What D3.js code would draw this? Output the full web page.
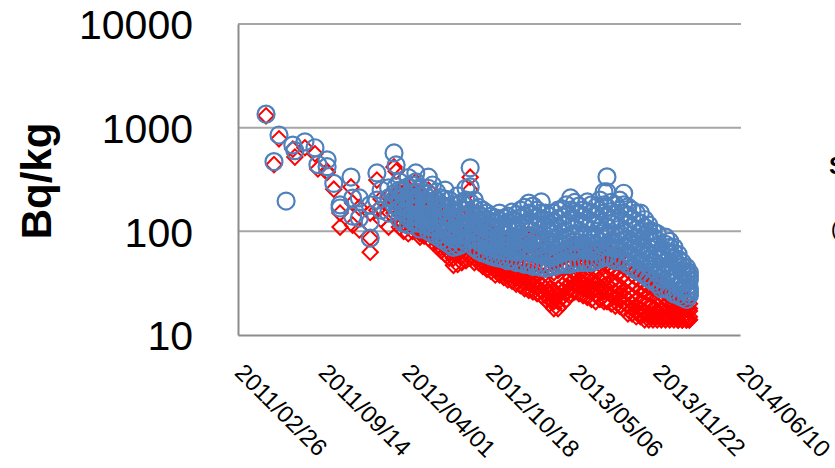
<!DOCTYPE html>
<html><head><meta charset="utf-8">
<script src="https://cdn.jsdelivr.net/npm/d3@7"></script>
<style>html,body{margin:0;padding:0;background:#fff;}svg{display:block;}</style>
</head><body>
<svg id="chart" width="835" height="468"></svg>
<script>
// ---- data ----
const yTickValues = [10, 100, 1000, 10000];
const xTickLabels = ["2011/02/26","2011/09/14","2012/04/01","2012/10/18","2013/05/06","2013/11/22","2014/06/10"];
const sampleDates = [
 "2011/05/04","2011/05/23","2011/06/04","2011/06/21","2011/07/07","2011/07/12","2011/08/05","2011/08/29","2011/09/05","2011/09/27",
 "2011/10/13","2011/10/28","2011/11/23","2011/11/27","2011/12/13","2012/01/08","2012/01/24","2012/02/03","2012/02/21","2012/03/05",
 "2012/03/10","2012/03/18","2012/03/28","2012/04/08","2012/04/18","2012/04/26","2012/05/06","2012/05/16","2012/05/26","2012/06/05",
 "2012/06/15","2012/06/25","2012/07/05","2012/07/15","2012/07/25","2012/08/04","2012/08/14","2012/08/24","2012/09/03","2012/09/13",
 "2012/09/23","2012/10/03","2012/10/13","2012/10/23","2012/11/02","2012/11/12","2012/11/22","2012/12/02","2012/12/12","2012/12/22",
 "2013/01/01","2013/01/11","2013/01/21","2013/01/31","2013/02/10","2013/02/20","2013/03/02","2013/03/12","2013/03/22","2013/04/01",
 "2013/04/11","2013/04/21","2013/05/01","2013/05/11","2013/05/21","2013/05/31","2013/06/10","2013/06/20","2013/06/30","2013/07/10",
 "2013/07/20","2013/07/27","2013/08/06","2013/08/16","2013/08/26","2013/09/05","2013/09/15","2013/09/25","2013/10/05","2013/10/15",
 "2013/10/25","2013/11/04","2013/11/14","2013/11/24","2013/12/04","2013/12/14","2013/12/24","2014/01/03","2014/01/13","2014/01/23",
 "2014/02/02","2014/02/09"
];
const blueValues = [
 [1350],[470],[850],[196],[680],[600],[730],[640],[440],[490,420],
 [290],[180,168],[334],[209,140],[134,210],[123,86,180],[366,200],[250,160],[262,150,210],[570,230,180],
 [437,270],[300,210,160,130,250,185],[250,190,150,120,215,170],[330,220,170,135,115,270,150],[280,200,160,125,230,140],[366,240,180,140,120,300,160],[260,190,150,120,105,220,135],[230,170,140,115,200,125],[333,210,160,125,100,260,140],[280,180,140,110,95,220,125],
 [240,170,130,105,90,200,115],[210,150,120,95,85,180,105],[250,170,125,100,80,205,112],[200,140,110,90,75,170,100],[180,130,105,85,70,155,95],[220,150,115,90,72,180,100],[190,140,110,85,75,160,95],[260,160,120,95,80,200,105],[410,268,150,110,85,190,125],[200,140,105,85,70,165,120],
 [170,125,100,80,65,145,90],[160,120,95,75,62,138,85],[150,115,90,72,60,130,80],[140,110,88,70,58,125,78],[135,105,85,68,56,120,75],[150,110,85,66,55,128,75],[134,100,80,65,54,118,72],[140,105,82,64,52,120,72],[153,110,85,66,53,128,75],[145,108,82,63,50,125,72],
 [160,115,85,65,50,135,75],[170,120,88,65,48,142,76],[187,125,90,66,48,150,78],[175,120,88,64,46,145,75],[160,115,85,62,46,135,72],[192,130,90,63,45,150,75],[150,110,80,58,44,128,68],[140,100,75,55,45,118,65],[150,105,78,57,46,125,66],[160,110,80,60,47,132,70],
 [165,115,85,62,48,138,72],[180,120,88,64,48,145,75],[210,130,92,66,48,160,78],[190,130,95,68,50,155,80],[175,125,92,68,50,148,78],[160,120,90,66,50,140,76],[192,130,92,66,50,155,78],[180,125,90,64,50,150,76],[170,120,88,64,52,145,75],[200,130,95,68,54,160,80],
 [240,150,100,72,56,180,85],[335,240,170,110,75,58,140,90],[190,130,95,70,55,155,80],[180,125,92,68,52,150,78],[200,135,95,68,52,160,80],[233,150,100,70,52,180,82],[172,120,85,62,48,142,72],[160,110,80,58,45,132,68],[150,105,75,55,42,125,64],[150,100,72,52,40,120,60],
 [130,92,68,50,38,110,58],[115,85,62,46,35,100,54],[100,78,58,43,33,88,50],[95,70,54,40,31,82,46],[66,55,45,35,28,60,40],[88,65,50,38,28,75,44],[80,60,46,35,27,70,40],[70,55,42,32,25,62,36],[60,48,38,30,24,54,34],[50,42,34,28,23,46,31],
 [45,38,32,26,22,41,29],[40,34,28,24,37,26]
];
const redValues = [
 [1300],[440],[780],[null],[620],[520],[640],[560],[400],[380,370],
 [255],[150,110],[268],[188,115],[103,170],[86,63,150],[312,160],[205,130],[215,110,180],[418,200,150],
 [380,230],[240,180,125,110,200,150],[205,150,120,100,170,135],[260,175,140,110,95,210,120],[220,160,120,100,180,115],[300,190,150,115,103,240,130],[200,150,115,95,88,170,105],[180,130,105,90,155,100],[250,160,120,100,86,200,110],[200,140,105,88,78,165,95],
 [175,125,95,80,72,150,88],[160,110,85,70,65,135,80],[180,120,90,70,60,150,80],[150,100,78,62,55,125,70],[130,90,70,55,47,110,62],[160,105,80,60,48,130,68],[140,100,75,58,50,120,66],[190,115,85,65,52,150,72],[333,250,110,75,55,140,90],[150,95,70,56,50,120,80],
 [120,85,68,55,50,100,60],[110,80,62,50,46,95,56],[105,75,58,48,43,90,52],[95,70,55,45,41,82,50],[90,68,52,43,38,78,47],[95,66,50,42,38,80,45],[85,62,48,40,36,72,44],[88,60,46,38,34,74,42],[92,62,46,38,33,76,42],[85,58,44,35,31,70,40],
 [90,60,44,34,30,74,38],[92,60,42,32,28,75,36],[95,60,42,32,27,76,36],[90,58,40,30,26,72,34],[80,55,38,29,25,66,33],[85,55,36,27,24,68,31],[70,48,32,24,22,58,28],[62,42,28,22,20,52,25],[60,40,27,21,18,50,24],[62,42,28,21,18,52,24],
 [65,45,30,23,20,55,26],[68,48,33,26,22,58,29],[72,52,36,28,25,62,32],[75,55,40,30,26,65,35],[70,52,38,30,25,62,34],[68,50,36,28,24,60,32],[70,50,35,27,23,60,30],[66,46,33,26,22,56,29],[64,45,32,25,21,55,28],[68,48,34,26,22,58,29],
 [70,50,35,26,21,60,30],[80,62,48,35,26,21,55,31],[62,45,32,24,20,52,28],[60,42,30,23,19,50,26],[58,40,28,22,19,48,25],[55,38,27,21,18,45,24],[50,35,25,19,16,42,22],[46,32,23,18,16,38,20],[42,30,22,17,15,35,19],[40,28,21,16,15,33,18],
 [38,27,20,16,14,31,17],[35,25,19,15,14,29,16],[33,24,18,15,14,28,16],[32,23,17,15,14,27,16],[30,22,17,15,14,25,15],[30,22,16,15,14,25,15],[28,21,16,15,14,24,15],[26,20,16,15,14,22,15],[25,19,15,14,14,21,14],[24,18,15,14,14,20,14],
 [22,18,15,14,14,19,14],[20,17,15,14,18,14]
];

// ---- chart ----
const parse = d3.timeParse("%Y/%m/%d");
const svg = d3.select("#chart");
const plotLeft = 238, plotRight = 740, plotTop = 24, plotBottom = 335;

const x = d3.scaleTime()
  .domain([parse(xTickLabels[0]), parse(xTickLabels[xTickLabels.length - 1])])
  .range([plotLeft, plotRight]);
const y = d3.scaleLog().domain([10, 10000]).range([plotBottom, plotTop]);

const blueData = [], redData = [];
sampleDates.forEach((ds, i) => {
  const d = parse(ds);
  blueValues[i].forEach(v => { if (v != null) blueData.push({date: d, value: v}); });
  redValues[i].forEach(v => { if (v != null) redData.push({date: d, value: v}); });
});

// gridlines (100, 1000, 10000)
svg.append("g").selectAll("line").data(yTickValues.slice(1)).join("line")
  .attr("x1", plotLeft).attr("x2", plotRight + 1)
  .attr("y1", d => y(d)).attr("y2", d => y(d))
  .attr("stroke", "#A6A6A6").attr("stroke-width", 2);

// y axis
const yAxis = d3.axisLeft(y).tickValues(yTickValues).tickSize(0).tickPadding(45)
  .tickFormat(d3.format("d"));
const gy = svg.append("g").attr("transform", `translate(${plotLeft},0)`).call(yAxis);
gy.select(".domain").attr("stroke", "#8C8C8C").attr("stroke-width", 2);
gy.selectAll("text").attr("font-family", "Liberation Sans, Arial, sans-serif")
  .attr("font-size", 41).attr("fill", "#000").attr("dy", "0.36em");

// x axis
const xAxis = d3.axisBottom(x).tickValues(xTickLabels.map(parse)).tickSize(0)
  .tickFormat(d3.timeFormat("%Y/%m/%d"));
const gx = svg.append("g").attr("transform", `translate(0,${plotBottom})`).call(xAxis);
gx.select(".domain").attr("stroke", "#8C8C8C").attr("stroke-width", 2);
gx.selectAll("text")
  .attr("font-family", "Liberation Sans, Arial, sans-serif")
  .attr("font-size", 24).attr("fill", "#000")
  .attr("text-anchor", "start")
  .attr("x", 0).attr("y", 0).attr("dy", 0)
  .attr("transform", "translate(-5,39) rotate(45)");

// y axis title
svg.append("text")
  .attr("transform", "translate(51,181) rotate(-90)")
  .attr("text-anchor", "middle")
  .attr("font-family", "Liberation Sans, Arial, sans-serif")
  .attr("font-weight", "bold").attr("font-size", 42)
  .text("Bq/kg");

// red diamonds
const diamond = d3.symbol().type(d3.symbolSquare).size(118)();
svg.append("g").selectAll("path").data(redData).join("path")
  .attr("d", diamond)
  .attr("transform", d => `translate(${x(d.date)},${y(d.value)}) rotate(45)`)
  .attr("fill", "none").attr("stroke", "#FF0000").attr("stroke-width", 2);

// blue circles
svg.append("g").selectAll("circle").data(blueData).join("circle")
  .attr("cx", d => x(d.date)).attr("cy", d => y(d.value)).attr("r", 8.5)
  .attr("fill", "none").attr("stroke", "#4F81BD").attr("stroke-width", 2.2);

// partially visible legend text at right edge (cut off in the reference too)
svg.append("text").attr("x", 829).attr("y", 174)
  .attr("font-family", "Liberation Sans, Arial, sans-serif")
  .attr("font-weight", "bold").attr("font-size", 24).text("S");
svg.append("text").attr("x", 831).attr("y", 236)
  .attr("font-family", "Liberation Sans, Arial, sans-serif")
  .attr("font-size", 20).text("(");
</script>
</body></html>
